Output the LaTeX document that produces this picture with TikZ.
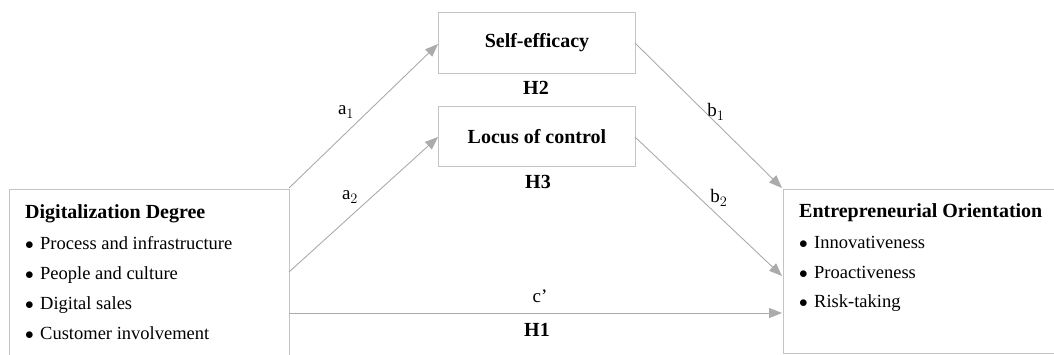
\documentclass[tikz,border=0pt]{standalone}
\usepackage{fontspec}
\setmainfont{Liberation Serif}
\usetikzlibrary{arrows.meta}
\definecolor{boxgray}{HTML}{C4C4C4}
\definecolor{arrgray}{HTML}{ABABAB}
\newcommand{\bitem}[1]{\makebox[15pt][l]{$\bullet$}#1}
\tikzset{
  box/.style={draw=boxgray, line width=0.9pt, inner sep=0pt},
  conn/.style={draw=arrgray, line width=0.9pt, -{Triangle[length=13pt,width=10pt]}, arrgray},
  lbl/.style={font=\fontsize{19}{22}\selectfont, inner sep=0pt},
  hlbl/.style={font=\fontsize{20}{24}\selectfont\bfseries, inner sep=0pt},
  itm/.style={font=\fontsize{18.5}{22}\selectfont, anchor=base west, inner sep=0pt},
  ttl/.style={font=\fontsize{20}{24}\selectfont\bfseries, anchor=base west, inner sep=0pt},
}
\begin{document}
\begin{tikzpicture}[x=1pt,y=-1pt]
\useasboundingbox (0,0) rectangle (1054,354);
% boxes
\node[box, minimum width=280pt, minimum height=170pt, anchor=north west] (dd) at (9,189) {};
\node[box, minimum width=275pt, minimum height=164pt, anchor=north west] (eo) at (783,189) {};
\node[box, minimum width=197pt, minimum height=61pt, anchor=north west] (se) at (438,12) {};
\node[box, minimum width=197pt, minimum height=60pt, anchor=north west] (lc) at (438,106) {};
\node[hlbl] at (se.center) {Self-efficacy};
\node[hlbl] at (lc.center) {Locus of control};
% left box text
\node[ttl] (ddt) at (25,218) {Digitalization Degree};
\node[itm] (d1) at (25,249) {\bitem{Process and infrastructure}};
\node[itm] (d2) at (25,279) {\bitem{People and culture}};
\node[itm] (d3) at (25,309) {\bitem{Digital sales}};
\node[itm] (d4) at (25,339) {\bitem{Customer involvement}};
% right box text
\node[ttl] (eot) at (799,217) {Entrepreneurial Orientation};
\node[itm] (e1) at (799,248) {\bitem{Innovativeness}};
\node[itm] (e2) at (799,278) {\bitem{Proactiveness}};
\node[itm] (e3) at (799,307) {\bitem{Risk-taking}};
% connection points
\coordinate (a1s) at (289,188);
\coordinate (a1e) at (438,44);
\coordinate (a2s) at (289,272);
\coordinate (a2e) at (438,137);
\coordinate (b1s) at (635,43);
\coordinate (b1e) at (782,188);
\coordinate (b2s) at (635,137);
\coordinate (b2e) at (782,276);
\coordinate (cs) at (289,313);
\coordinate (ce) at (782,313);
\draw[conn] (a1s) -- (a1e);
\draw[conn] (a2s) -- (a2e);
\draw[conn] (b1s) -- (b1e);
\draw[conn] (b2s) -- (b2e);
\draw[conn] (cs) -- (ce);
% labels
\node[lbl] (la1) at (346,112) {a$_1$};
\node[lbl] (la2) at (350,197) {a$_2$};
\node[lbl] (lb1) at (716,112) {b$_1$};
\node[lbl] (lb2) at (719,198) {b$_2$};
\node[lbl] (lc2) at (540,296) {c’};
\node[hlbl] (h2) at (536,88) {H2};
\node[hlbl] (h3) at (538,182) {H3};
\node[hlbl] (h1) at (537,330) {H1};
\end{tikzpicture}
\end{document}
